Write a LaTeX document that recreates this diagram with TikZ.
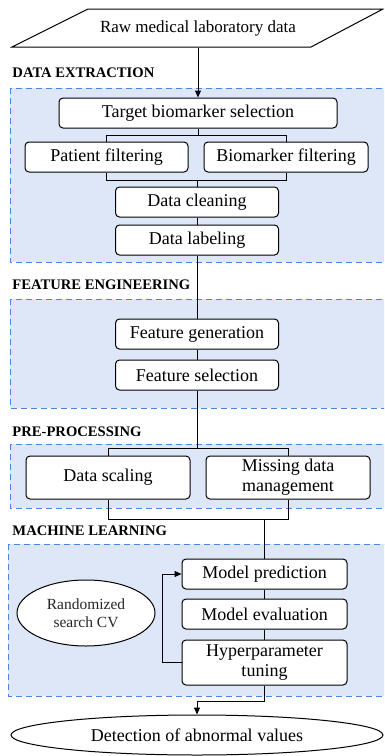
\documentclass[tikz,border=0pt]{standalone}
\usepackage{fontspec}
\setmainfont{Liberation Serif}
\usetikzlibrary{arrows.meta,shapes.geometric}
\definecolor{stagefill}{HTML}{DEE7F8}
\definecolor{stageline}{HTML}{4A86E8}
\begin{document}
\begin{tikzpicture}[x=1pt,y=-1pt,line width=1pt,
        txt/.style={font=\fontsize{18}{20}\selectfont},
        stepbox/.style={txt,draw,fill=white,rounded corners=4pt,minimum height=30pt,inner sep=1pt,align=center},
        stagebox/.style={draw=stageline,fill=stagefill,dash pattern=on 6pt off 4pt},
        stagename/.style={anchor=west,inner sep=0pt,font=\bfseries\fontsize{14.6}{16}\selectfont},
        tip/.style={-{Triangle[length=7pt,width=6pt]}}]
        \clip (0,0) rectangle (384,756);
        \path [stagebox] (10,88) rectangle (392,262);
        \path [stagebox] (10,299) rectangle (392,408);
        \path [stagebox] (10,444) rectangle (392,508);
        \path [stagebox] (8,544) rectangle (392,696);
        \node [stagename] (exthead) at (12,73) {DATA EXTRACTION};
        \node [stagename] (feahead) at (12,285) {FEATURE ENGINEERING};
        \node [stagename] (prehead) at (12,432) {PRE-PROCESSING};
        \node [stagename] (mlhead) at (12,531) {MACHINE LEARNING};
        \draw (88,9) -- (383,9) -- (311,47) -- (12,47) -- cycle;
        \node [minimum height=38pt,inner sep=0pt,font=\fontsize{17}{19}\selectfont] (raw) at (198,28) {Raw medical laboratory data};
        \node [stepbox,minimum width=278pt] (target) at (198,113) {Target biomarker selection};
        \node [stepbox,minimum width=163pt] (patient) at (106.5,157) {Patient filtering};
        \node [stepbox,minimum width=164pt] (biomarker) at (286,157) {Biomarker filtering};
        \node [stepbox,minimum width=163pt] (cleaning) at (197,202) {Data cleaning};
        \node [stepbox,minimum width=163pt] (labeling) at (197,240) {Data labeling};
        \node [stepbox,minimum width=163pt] (featgen) at (197,334) {Feature generation};
        \node [stepbox,minimum width=163pt] (featsel) at (197,375) {Feature selection};
        \node [stepbox,minimum width=164pt,minimum height=43pt] (scaling) at (108,477.5) {Data scaling};
        \node [stepbox,minimum width=164pt,minimum height=43pt] (missing) at (288,477.5) {Missing data\\management};
        \node [stepbox,minimum width=165pt] (predict) at (264.5,574) {Model prediction};
        \node [stepbox,minimum width=165pt] (evaluate) at (264.5,614) {Model evaluation};
        \node [stepbox,minimum width=165pt,minimum height=45pt] (tuning) at (264.5,662.5) {Hyperparameter\\tuning};
        \node [ellipse,draw,fill=white,minimum width=138pt,minimum height=66pt,inner sep=0pt,align=center,text=black!85,font=\fontsize{15.5}{18.5}\selectfont] (randcv) at (86,613) {Randomized\\search CV};
        \node [ellipse,draw,fill=white,txt,minimum width=372pt,minimum height=40pt,inner sep=0pt] (detect) at (197,735) {Detection of abnormal values};
        \draw [tip] (raw.south) -- (target.north);
        \draw (target.south) -- ++(0,7) -| (patient.north);
        \draw (target.south) -- ++(0,7) -| (biomarker.north);
        \draw (patient.south) -- ++(0,7.5) -| (cleaning.north);
        \draw (biomarker.south) -- ++(0,7.5) -| (cleaning.north);
        \draw (cleaning.south) -- (labeling.north);
        \draw (labeling.south) -- (featgen.north);
        \draw (featgen.south) -- (featsel.north);
        \draw (featsel.south) |- ([yshift=7pt]scaling.north) -- (scaling.north);
        \draw (featsel.south) |- ([yshift=7pt]missing.north) -- (missing.north);
        \draw (scaling.south) -- ++(0,20) -| (predict.north);
        \draw (missing.south) -- ++(0,20) -| (predict.north);
        \draw (predict.south) -- (evaluate.north);
        \draw (evaluate.south) -- (tuning.north);
        \draw [tip] (tuning.west) -- ++(-19,0) |- (predict.west);
        \draw [tip] (tuning.south) -- ++(0,16) -| (detect.north);
\end{tikzpicture}
\end{document}
